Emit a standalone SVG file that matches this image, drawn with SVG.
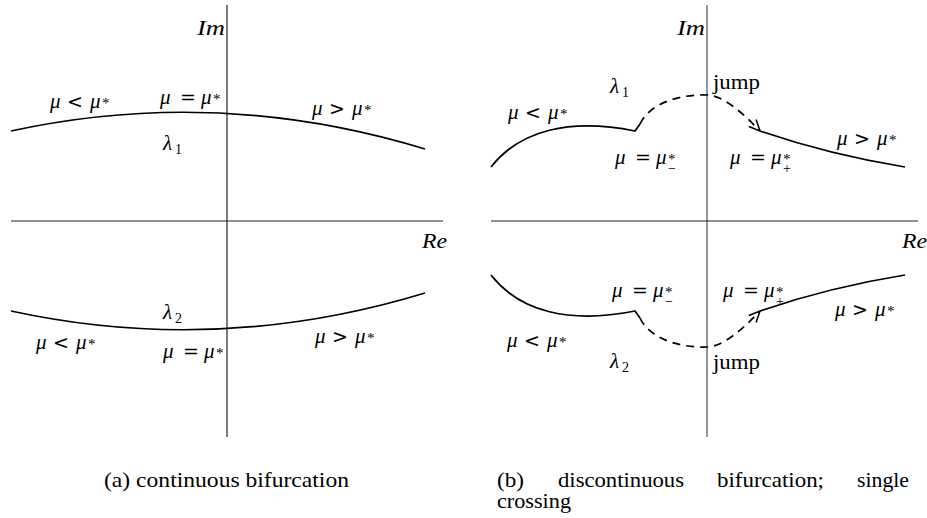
<svg xmlns="http://www.w3.org/2000/svg" width="927" height="518" viewBox="0 0 927 518">
<style>
.m{font-size:21px}
.i{font-style:italic}
.r{font-family:"DejaVu Serif","Liberation Serif",serif;font-size:19px;font-style:normal}
.s{font-size:15px;font-style:normal}
.sb{font-size:14px;font-style:normal}
.cap{font-size:21px}
.ax{stroke:#222;stroke-width:1.2;fill:none}
.axg{stroke:#7a7a7a;stroke-width:1.6;fill:none}
.cv{stroke:#000;stroke-width:1.7;fill:none}
.dash{stroke:#000;stroke-width:1.7;fill:none;stroke-dasharray:8 6}
</style>
<defs>
<marker id="arr" markerUnits="userSpaceOnUse" markerWidth="16" markerHeight="16" refX="13" refY="8" orient="auto">
<path d="M2,3 L13,8 L2,13" fill="none" stroke="#000" stroke-width="1.5"/>
</marker>
</defs>
<rect width="927" height="518" fill="#fff"/>

<g id="axes-a">
<line class="ax" x1="227" y1="5" x2="227" y2="437"/>
<line class="ax" x1="11" y1="221" x2="443" y2="221"/>
</g>
<g id="axes-b">
<line class="axg" x1="707" y1="5" x2="707" y2="437"/>
<line class="ax" x1="491" y1="221" x2="918" y2="221"/>
</g>

<g id="connectors">
<path class="cv" d="M11,131 Q218,86 425,149"/>
<path class="cv" d="M11,311 Q218,356 425,293"/>
<g id="upper-b">
<path class="cv" d="M491,167 C520,130 570,118 635,131 L640,124"/>
<path class="dash" d="M640,124 C648,106 675,94 707,95 C722,95 742,112 760,131" marker-end="url(#arr)"/>
<path class="cv" d="M760,131 Q830,155 905,167"/>
</g>
<g id="lower-b" transform="translate(0,442) scale(1,-1)">
<path class="cv" d="M491,167 C520,130 570,118 635,131 L640,124"/>
<path class="dash" d="M640,124 C648,106 675,94 707,95 C722,95 742,112 760,131" marker-end="url(#arr)"/>
<path class="cv" d="M760,131 Q830,155 905,167"/>
</g>
</g>

<g font-family="'Liberation Serif', 'DejaVu Serif', serif" fill="#000">
<g id="labels-a">
<text id="im-a" class="m i" x="197" y="35" textLength="28" lengthAdjust="spacingAndGlyphs">Im</text>
<text id="re-a" class="m i" x="422" y="248" textLength="25" lengthAdjust="spacingAndGlyphs">Re</text>
<text id="a-lt-top" class="m" y="108"><tspan class="i" x="50">μ</tspan><tspan class="r" x="67">&lt;</tspan><tspan class="i" x="90">μ</tspan><tspan class="s" x="102">*</tspan></text>
<text id="a-eq-top" class="m" y="104"><tspan class="i" x="160">μ</tspan><tspan class="r" x="180">=</tspan><tspan class="i" x="201">μ</tspan><tspan class="s" x="213">*</tspan></text>
<text id="a-gt-top" class="m" y="115"><tspan class="i" x="312">μ</tspan><tspan class="r" x="329">&gt;</tspan><tspan class="i" x="352">μ</tspan><tspan class="s" x="364">*</tspan></text>
<text id="a-l1" class="m" y="150"><tspan class="i" x="163">λ</tspan><tspan class="sb" x="175" dy="4">1</tspan></text>
<text id="a-l2" class="m" y="319"><tspan class="i" x="163">λ</tspan><tspan class="sb" x="175" dy="4">2</tspan></text>
<text id="a-lt-bot" class="m" y="349"><tspan class="i" x="36">μ</tspan><tspan class="r" x="53">&lt;</tspan><tspan class="i" x="76">μ</tspan><tspan class="s" x="88">*</tspan></text>
<text id="a-eq-bot" class="m" y="358"><tspan class="i" x="163">μ</tspan><tspan class="r" x="183">=</tspan><tspan class="i" x="204">μ</tspan><tspan class="s" x="216">*</tspan></text>
<text id="a-gt-bot" class="m" y="343"><tspan class="i" x="315">μ</tspan><tspan class="r" x="332">&gt;</tspan><tspan class="i" x="355">μ</tspan><tspan class="s" x="367">*</tspan></text>
</g>

<g id="labels-b">
<text id="im-b" class="m i" x="677" y="35" textLength="28" lengthAdjust="spacingAndGlyphs">Im</text>
<text id="re-b" class="m i" x="902" y="248" textLength="25" lengthAdjust="spacingAndGlyphs">Re</text>
<text id="jump-top" class="m" x="713" y="89" textLength="47" lengthAdjust="spacingAndGlyphs">jump</text>
<text id="jump-bot" class="m" x="713" y="369" textLength="47" lengthAdjust="spacingAndGlyphs">jump</text>
<text id="b-l1" class="m" y="93"><tspan class="i" x="610">λ</tspan><tspan class="sb" x="622" dy="4">1</tspan></text>
<text id="b-l2" class="m" y="368"><tspan class="i" x="610">λ</tspan><tspan class="sb" x="622" dy="4">2</tspan></text>
<text id="b-lt-top" class="m" y="119"><tspan class="i" x="508">μ</tspan><tspan class="r" x="525">&lt;</tspan><tspan class="i" x="548">μ</tspan><tspan class="s" x="560">*</tspan></text>
<text id="b-eqm-top" class="m" y="164"><tspan class="i" x="615">μ</tspan><tspan class="r" x="635">=</tspan><tspan class="i" x="656">μ</tspan><tspan class="s" x="668">*</tspan><tspan class="sb" x="668" dy="9">−</tspan></text>
<text id="b-eqp-top" class="m" y="164"><tspan class="i" x="730">μ</tspan><tspan class="r" x="750">=</tspan><tspan class="i" x="771">μ</tspan><tspan class="s" x="783">*</tspan><tspan class="sb" x="783" dy="9">+</tspan></text>
<text id="b-gt-top" class="m" y="145"><tspan class="i" x="837">μ</tspan><tspan class="r" x="854">&gt;</tspan><tspan class="i" x="877">μ</tspan><tspan class="s" x="889">*</tspan></text>
<text id="b-eqm-bot" class="m" y="297"><tspan class="i" x="612">μ</tspan><tspan class="r" x="632">=</tspan><tspan class="i" x="653">μ</tspan><tspan class="s" x="665">*</tspan><tspan class="sb" x="665" dy="9">−</tspan></text>
<text id="b-eqp-bot" class="m" y="297"><tspan class="i" x="723">μ</tspan><tspan class="r" x="743">=</tspan><tspan class="i" x="764">μ</tspan><tspan class="s" x="776">*</tspan><tspan class="sb" x="776" dy="9">+</tspan></text>
<text id="b-gt-bot" class="m" y="316"><tspan class="i" x="835">μ</tspan><tspan class="r" x="852">&gt;</tspan><tspan class="i" x="875">μ</tspan><tspan class="s" x="887">*</tspan></text>
<text id="b-lt-bot" class="m" y="347"><tspan class="i" x="507">μ</tspan><tspan class="r" x="524">&lt;</tspan><tspan class="i" x="547">μ</tspan><tspan class="s" x="559">*</tspan></text>
</g>

<g id="captions">
<text id="cap-a" class="cap" x="104" y="487" textLength="245" lengthAdjust="spacingAndGlyphs">(a) continuous bifurcation</text>
<text id="cap-b1" class="cap" y="487"><tspan x="497" textLength="27" lengthAdjust="spacingAndGlyphs">(b)</tspan><tspan x="558" textLength="126" lengthAdjust="spacingAndGlyphs">discontinuous</tspan><tspan x="717" textLength="107" lengthAdjust="spacingAndGlyphs">bifurcation;</tspan><tspan x="857" textLength="52" lengthAdjust="spacingAndGlyphs">single</tspan></text>
<text id="cap-b2" class="cap" x="497" y="508" textLength="74" lengthAdjust="spacingAndGlyphs">crossing</text>
</g>
</g>
</svg>
